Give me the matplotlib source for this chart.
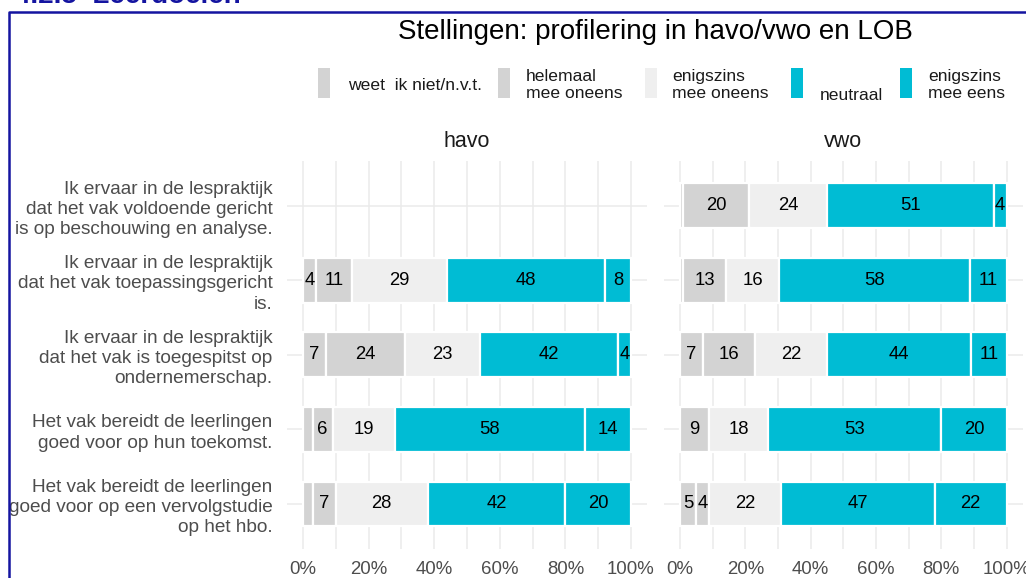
import numpy as np
import matplotlib
matplotlib.use("Agg")
import matplotlib.pyplot as plt
from matplotlib.patches import Rectangle
from matplotlib.lines import Line2D

plt.rcParams['font.family'] = ['Liberation Sans', 'DejaVu Sans']

# ---------------- data ----------------
title = "Stellingen: profilering in havo/vwo en LOB"
facets = ["havo", "vwo"]
statements = [
    "Ik ervaar in de lespraktijk\ndat het vak voldoende gericht\nis op beschouwing en analyse.",
    "Ik ervaar in de lespraktijk\ndat het vak toepassingsgericht\nis.",
    "Ik ervaar in de lespraktijk\ndat het vak is toegespitst op\nondernemerschap.",
    "Het vak bereidt de leerlingen\ngoed voor op hun toekomst.",
    "Het vak bereidt de leerlingen\ngoed voor op een vervolgstudie\nop het hbo.",
]
levels = ["weet  ik niet/n.v.t.", "helemaal\nmee oneens", "enigszins\nmee oneens",
          "neutraal", "enigszins\nmee eens"]
level_colors = ["#D3D3D3", "#D3D3D3", "#EFEFEF", "#00BCD4", "#00BCD4"]

weet_havo = [np.nan, 4, 7, 3, 3]
helemaal_havo = [np.nan, 11, 24, 6, 7]
enigszins_oneens_havo = [np.nan, 29, 23, 19, 28]
neutraal_havo = [np.nan, 48, 42, 58, 42]
enigszins_eens_havo = [np.nan, 8, 4, 14, 20]

weet_vwo = [1, 1, 7, 0, 5]
helemaal_vwo = [20, 13, 16, 9, 4]
enigszins_oneens_vwo = [24, 16, 22, 18, 22]
neutraal_vwo = [51, 58, 44, 53, 47]
enigszins_eens_vwo = [4, 11, 11, 20, 22]

label_min = 4
x_ticks = [0, 20, 40, 60, 80, 100]
x_ticklabels = ["0%", "20%", "40%", "60%", "80%", "100%"]

# ---------------- figure ----------------
W, H = 1026, 578
fig = plt.figure(figsize=(W / 100, H / 100), dpi=100)
fig.patch.set_facecolor("white")

def px_box(left, top, right, bottom):
    return [left / W, 1 - bottom / H, (right - left) / W, (bottom - top) / H]

panel_top, panel_bottom = 161.0, 548.7
ax_havo = fig.add_axes(px_box(286.6, panel_top, 647.4, panel_bottom))
ax_vwo = fig.add_axes(px_box(663.7, panel_top, 1023.0, panel_bottom))

data = {
    "havo": [weet_havo, helemaal_havo, enigszins_oneens_havo, neutraal_havo, enigszins_eens_havo],
    "vwo": [weet_vwo, helemaal_vwo, enigszins_oneens_vwo, neutraal_vwo, enigszins_eens_vwo],
}

grid_col = "#EBEBEB"
for ax, facet in zip([ax_havo, ax_vwo], facets):
    vals = np.array(data[facet], dtype=float)  # levels x statements
    totals = np.nansum(vals, axis=0)
    y = np.arange(len(statements))
    left = np.zeros(len(statements))
    for li in range(len(levels)):
        v = vals[li]
        share = np.where(totals > 0, v / np.where(totals > 0, totals, 1) * 100, np.nan)
        ok = ~np.isnan(share)
        ax.barh(y[ok], share[ok], left=left[ok], height=0.6, color=level_colors[li],
                edgecolor="white", linewidth=1.6, zorder=2)
        for yi in y[ok]:
            if v[yi] >= label_min:
                ax.text(left[yi] + share[yi] / 2, yi, f"{int(v[yi])}", ha="center",
                        va="center", fontsize=13.3, color="black", zorder=3)
        left = left + np.nan_to_num(share)
    ax.set_xlim(-5, 105)
    ax.set_ylim(len(statements) - 1 + 0.6, -0.6)
    ax.set_xticks(x_ticks)
    ax.set_xticklabels(x_ticklabels)
    ax.set_xticks(np.arange(10, 100, 20), minor=True)
    ax.set_yticks(y)
    ax.grid(True, which="both", axis="x", color=grid_col, linewidth=1.1, zorder=0)
    ax.grid(True, which="major", axis="y", color=grid_col, linewidth=1.1, zorder=0)
    ax.set_axisbelow(True)
    for s in ax.spines.values():
        s.set_visible(False)
    ax.tick_params(axis="both", which="both", length=0)
    ax.tick_params(axis="x", labelsize=13.4, labelcolor="#4D4D4D", pad=8.5)
    ax.text(0.5, 1 + 19 / (panel_bottom - panel_top), facet, transform=ax.transAxes,
            ha="center", va="center", fontsize=15.5, color="#1A1A1A")

ax_havo.set_yticklabels(statements, fontsize=13.7, color="#4D4D4D", linespacing=1.25)
ax_havo.tick_params(axis="y", pad=10)
ax_vwo.set_yticklabels([])

# ---------------- overlay: title, legend, page frame ----------------
ov = fig.add_axes([0, 0, 1, 1], facecolor="none")
ov.set_xlim(0, W)
ov.set_ylim(H, 0)
ov.axis("off")

ov.text(655, 32, title, ha="center", va="center", fontsize=20, color="black")

key_x = [318, 498, 645, 791, 900]
lab_x = [348, 526, 672, 820, 928]
lab_y = [85, 85, 85, 95, 85]
for kx, lx, ly, lab, col in zip(key_x, lab_x, lab_y, levels, level_colors):
    ov.add_patch(Rectangle((kx, 68), 12, 30, facecolor=col, edgecolor="none"))
    ov.text(lx, ly, lab, ha="left", va="center", fontsize=12.6, color="#1A1A1A",
            linespacing=1.1)

frame_col = "#1414A0"
ov.add_line(Line2D([9, 9, W], [H, 12, 12], color=frame_col, linewidth=1.8))
ov.text(15, 3, "4.2.5  Leerdoelen", ha="left", va="baseline", fontsize=20,
        fontweight="bold", color=frame_col)

fig.savefig("out.png", dpi=100)
